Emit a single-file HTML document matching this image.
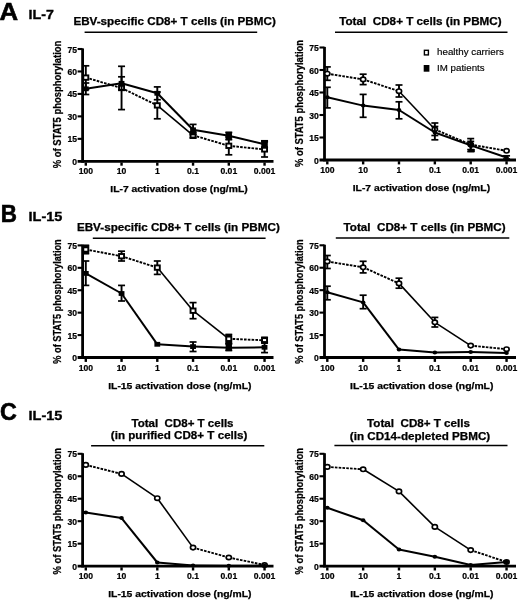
<!DOCTYPE html>
<html><head><meta charset="utf-8"><title>STAT5 phosphorylation</title>
<style>
html,body{margin:0;padding:0;background:#fff;}
body{width:520px;height:602px;overflow:hidden;}
svg{display:block;font-family:"Liberation Sans", sans-serif;filter:grayscale(1);}
</style></head>
<body>
<svg width="520" height="602" viewBox="0 0 520 602">
<rect width="520" height="602" fill="#fff"/>
<text transform="translate(61.10,168.20) rotate(-90)" font-size="10.6" font-weight="bold" text-anchor="start" textLength="127.60" lengthAdjust="spacingAndGlyphs" stroke="#000" stroke-width="0.25">% of STAT5 phosphorylation</text>
<line x1="82.60" y1="48.40" x2="82.60" y2="162.70" stroke="#000" stroke-width="2.8" stroke-linecap="butt"/>
<line x1="77.60" y1="161.30" x2="273.50" y2="161.30" stroke="#000" stroke-width="2.8" stroke-linecap="butt"/>
<text transform="translate(77.00,164.80) scale(1.05,1)" font-size="8.2" font-weight="bold" text-anchor="end" stroke="#000" stroke-width="0.2">0</text>
<line x1="77.60" y1="138.84" x2="82.60" y2="138.84" stroke="#000" stroke-width="2.1" stroke-linecap="butt"/>
<text transform="translate(77.00,142.34) scale(1.05,1)" font-size="8.2" font-weight="bold" text-anchor="end" stroke="#000" stroke-width="0.2">15</text>
<line x1="77.60" y1="116.38" x2="82.60" y2="116.38" stroke="#000" stroke-width="2.1" stroke-linecap="butt"/>
<text transform="translate(77.00,119.88) scale(1.05,1)" font-size="8.2" font-weight="bold" text-anchor="end" stroke="#000" stroke-width="0.2">30</text>
<line x1="77.60" y1="93.92" x2="82.60" y2="93.92" stroke="#000" stroke-width="2.1" stroke-linecap="butt"/>
<text transform="translate(77.00,97.42) scale(1.05,1)" font-size="8.2" font-weight="bold" text-anchor="end" stroke="#000" stroke-width="0.2">45</text>
<line x1="77.60" y1="71.46" x2="82.60" y2="71.46" stroke="#000" stroke-width="2.1" stroke-linecap="butt"/>
<text transform="translate(77.00,74.96) scale(1.05,1)" font-size="8.2" font-weight="bold" text-anchor="end" stroke="#000" stroke-width="0.2">60</text>
<line x1="77.60" y1="49.00" x2="82.60" y2="49.00" stroke="#000" stroke-width="2.1" stroke-linecap="butt"/>
<text transform="translate(77.00,52.50) scale(1.05,1)" font-size="8.2" font-weight="bold" text-anchor="end" stroke="#000" stroke-width="0.2">75</text>
<rect x="84.60" y="162.50" width="2.40" height="3.20" fill="#000"/>
<text transform="translate(85.80,174.10) scale(1.05,1)" font-size="8.2" font-weight="bold" text-anchor="middle" stroke="#000" stroke-width="0.2">100</text>
<rect x="120.35" y="162.50" width="2.40" height="3.20" fill="#000"/>
<text transform="translate(121.55,174.10) scale(1.05,1)" font-size="8.2" font-weight="bold" text-anchor="middle" stroke="#000" stroke-width="0.2">10</text>
<rect x="156.10" y="162.50" width="2.40" height="3.20" fill="#000"/>
<text transform="translate(157.30,174.10) scale(1.05,1)" font-size="8.2" font-weight="bold" text-anchor="middle" stroke="#000" stroke-width="0.2">1</text>
<rect x="191.85" y="162.50" width="2.40" height="3.20" fill="#000"/>
<text transform="translate(193.05,174.10) scale(1.05,1)" font-size="8.2" font-weight="bold" text-anchor="middle" stroke="#000" stroke-width="0.2">0.1</text>
<rect x="227.60" y="162.50" width="2.40" height="3.20" fill="#000"/>
<text transform="translate(228.80,174.10) scale(1.05,1)" font-size="8.2" font-weight="bold" text-anchor="middle" stroke="#000" stroke-width="0.2">0.01</text>
<rect x="263.35" y="162.50" width="2.40" height="3.20" fill="#000"/>
<text transform="translate(264.55,174.10) scale(1.05,1)" font-size="8.2" font-weight="bold" text-anchor="middle" stroke="#000" stroke-width="0.2">0.001</text>
<text x="110.30" y="191.50" font-size="9.2" font-weight="bold" text-anchor="start" textLength="137.40" lengthAdjust="spacingAndGlyphs" stroke="#000" stroke-width="0.25">IL-7 activation dose (ng/mL)</text>
<text x="73.40" y="24.90" font-size="10.0" font-weight="bold" text-anchor="start" textLength="202.40" lengthAdjust="spacingAndGlyphs" stroke="#000" stroke-width="0.25">EBV-specific CD8+ T cells (in PBMC)</text>
<line x1="84.60" y1="32.20" x2="257.20" y2="32.20" stroke="#000" stroke-width="1.5" stroke-linecap="butt"/>
<line x1="85.80" y1="65.80" x2="85.80" y2="89.40" stroke="#000" stroke-width="1.9" stroke-linecap="butt"/>
<line x1="82.30" y1="65.80" x2="89.30" y2="65.80" stroke="#000" stroke-width="1.7" stroke-linecap="butt"/>
<line x1="82.30" y1="89.40" x2="89.30" y2="89.40" stroke="#000" stroke-width="1.7" stroke-linecap="butt"/>
<line x1="121.55" y1="66.30" x2="121.55" y2="109.60" stroke="#000" stroke-width="1.9" stroke-linecap="butt"/>
<line x1="118.05" y1="66.30" x2="125.05" y2="66.30" stroke="#000" stroke-width="1.7" stroke-linecap="butt"/>
<line x1="118.05" y1="109.60" x2="125.05" y2="109.60" stroke="#000" stroke-width="1.7" stroke-linecap="butt"/>
<line x1="157.30" y1="92.00" x2="157.30" y2="118.80" stroke="#000" stroke-width="1.9" stroke-linecap="butt"/>
<line x1="153.80" y1="92.00" x2="160.80" y2="92.00" stroke="#000" stroke-width="1.7" stroke-linecap="butt"/>
<line x1="153.80" y1="118.80" x2="160.80" y2="118.80" stroke="#000" stroke-width="1.7" stroke-linecap="butt"/>
<line x1="193.05" y1="132.00" x2="193.05" y2="138.00" stroke="#000" stroke-width="1.9" stroke-linecap="butt"/>
<line x1="189.55" y1="132.00" x2="196.55" y2="132.00" stroke="#000" stroke-width="1.7" stroke-linecap="butt"/>
<line x1="189.55" y1="138.00" x2="196.55" y2="138.00" stroke="#000" stroke-width="1.7" stroke-linecap="butt"/>
<rect x="189.95" y="131.20" width="6.20" height="7.60" fill="#000"/>
<line x1="228.80" y1="137.00" x2="228.80" y2="154.80" stroke="#000" stroke-width="1.9" stroke-linecap="butt"/>
<line x1="225.30" y1="137.00" x2="232.30" y2="137.00" stroke="#000" stroke-width="1.7" stroke-linecap="butt"/>
<line x1="225.30" y1="154.80" x2="232.30" y2="154.80" stroke="#000" stroke-width="1.7" stroke-linecap="butt"/>
<line x1="264.55" y1="141.80" x2="264.55" y2="157.00" stroke="#000" stroke-width="1.9" stroke-linecap="butt"/>
<line x1="261.05" y1="141.80" x2="268.05" y2="141.80" stroke="#000" stroke-width="1.7" stroke-linecap="butt"/>
<line x1="261.05" y1="157.00" x2="268.05" y2="157.00" stroke="#000" stroke-width="1.7" stroke-linecap="butt"/>
<line x1="85.80" y1="77.60" x2="121.55" y2="88.00" stroke="#000" stroke-width="1.9" stroke-linecap="butt" stroke-dasharray="2.6 1.2"/>
<line x1="121.55" y1="88.00" x2="157.30" y2="105.40" stroke="#000" stroke-width="1.9" stroke-linecap="butt" stroke-dasharray="2.6 1.2"/>
<line x1="157.30" y1="105.40" x2="193.05" y2="135.30" stroke="#000" stroke-width="1.6" stroke-linecap="butt"/>
<line x1="193.05" y1="135.30" x2="228.80" y2="145.80" stroke="#000" stroke-width="1.9" stroke-linecap="butt" stroke-dasharray="2.6 1.2"/>
<line x1="228.80" y1="145.80" x2="264.55" y2="149.40" stroke="#000" stroke-width="1.9" stroke-linecap="butt" stroke-dasharray="2.6 1.2"/>
<rect x="83.30" y="75.40" width="5.0" height="4.4" fill="#fff" stroke="#000" stroke-width="1.9"/>
<rect x="119.05" y="85.80" width="5.0" height="4.4" fill="#fff" stroke="#000" stroke-width="1.9"/>
<rect x="154.80" y="103.20" width="5.0" height="4.4" fill="#fff" stroke="#000" stroke-width="1.9"/>
<rect x="190.55" y="133.10" width="5.0" height="4.4" fill="#fff" stroke="#000" stroke-width="1.9"/>
<rect x="226.30" y="143.60" width="5.0" height="4.4" fill="#fff" stroke="#000" stroke-width="1.9"/>
<rect x="262.05" y="147.20" width="5.0" height="4.4" fill="#fff" stroke="#000" stroke-width="1.9"/>
<line x1="85.80" y1="83.00" x2="85.80" y2="94.50" stroke="#000" stroke-width="1.9" stroke-linecap="butt"/>
<line x1="82.30" y1="83.00" x2="89.30" y2="83.00" stroke="#000" stroke-width="1.7" stroke-linecap="butt"/>
<line x1="82.30" y1="94.50" x2="89.30" y2="94.50" stroke="#000" stroke-width="1.7" stroke-linecap="butt"/>
<line x1="121.55" y1="76.80" x2="121.55" y2="89.80" stroke="#000" stroke-width="1.9" stroke-linecap="butt"/>
<line x1="118.05" y1="76.80" x2="125.05" y2="76.80" stroke="#000" stroke-width="1.7" stroke-linecap="butt"/>
<line x1="118.05" y1="89.80" x2="125.05" y2="89.80" stroke="#000" stroke-width="1.7" stroke-linecap="butt"/>
<line x1="157.30" y1="86.90" x2="157.30" y2="99.70" stroke="#000" stroke-width="1.9" stroke-linecap="butt"/>
<line x1="153.80" y1="86.90" x2="160.80" y2="86.90" stroke="#000" stroke-width="1.7" stroke-linecap="butt"/>
<line x1="153.80" y1="99.70" x2="160.80" y2="99.70" stroke="#000" stroke-width="1.7" stroke-linecap="butt"/>
<line x1="193.05" y1="124.40" x2="193.05" y2="134.50" stroke="#000" stroke-width="1.9" stroke-linecap="butt"/>
<line x1="189.55" y1="124.40" x2="196.55" y2="124.40" stroke="#000" stroke-width="1.7" stroke-linecap="butt"/>
<line x1="189.55" y1="134.50" x2="196.55" y2="134.50" stroke="#000" stroke-width="1.7" stroke-linecap="butt"/>
<line x1="228.80" y1="132.50" x2="228.80" y2="139.50" stroke="#000" stroke-width="1.9" stroke-linecap="butt"/>
<line x1="225.30" y1="132.50" x2="232.30" y2="132.50" stroke="#000" stroke-width="1.7" stroke-linecap="butt"/>
<line x1="225.30" y1="139.50" x2="232.30" y2="139.50" stroke="#000" stroke-width="1.7" stroke-linecap="butt"/>
<rect x="225.70" y="131.70" width="6.20" height="8.60" fill="#000"/>
<line x1="264.55" y1="140.80" x2="264.55" y2="147.60" stroke="#000" stroke-width="1.9" stroke-linecap="butt"/>
<line x1="261.05" y1="140.80" x2="268.05" y2="140.80" stroke="#000" stroke-width="1.7" stroke-linecap="butt"/>
<line x1="261.05" y1="147.60" x2="268.05" y2="147.60" stroke="#000" stroke-width="1.7" stroke-linecap="butt"/>
<rect x="261.45" y="140.00" width="6.20" height="8.40" fill="#000"/>
<line x1="85.80" y1="88.80" x2="121.55" y2="83.30" stroke="#000" stroke-width="2.0" stroke-linecap="butt"/>
<line x1="121.55" y1="83.30" x2="157.30" y2="93.30" stroke="#000" stroke-width="2.0" stroke-linecap="butt"/>
<line x1="157.30" y1="93.30" x2="193.05" y2="129.80" stroke="#000" stroke-width="2.0" stroke-linecap="butt"/>
<line x1="193.05" y1="129.80" x2="228.80" y2="135.80" stroke="#000" stroke-width="2.0" stroke-linecap="butt"/>
<line x1="228.80" y1="135.80" x2="264.55" y2="144.20" stroke="#000" stroke-width="2.0" stroke-linecap="butt"/>
<rect x="82.90" y="86.40" width="5.80" height="4.80" fill="#000"/>
<rect x="118.65" y="80.90" width="5.80" height="4.80" fill="#000"/>
<rect x="154.40" y="90.90" width="5.80" height="4.80" fill="#000"/>
<rect x="190.15" y="127.40" width="5.80" height="4.80" fill="#000"/>
<rect x="225.90" y="133.40" width="5.80" height="4.80" fill="#000"/>
<rect x="261.65" y="141.80" width="5.80" height="4.80" fill="#000"/>
<text transform="translate(303.10,167.00) rotate(-90)" font-size="10.6" font-weight="bold" text-anchor="start" textLength="127.00" lengthAdjust="spacingAndGlyphs" stroke="#000" stroke-width="0.25">% of STAT5 phosphorylation</text>
<line x1="324.50" y1="46.90" x2="324.50" y2="161.40" stroke="#000" stroke-width="2.8" stroke-linecap="butt"/>
<line x1="319.50" y1="160.00" x2="516.00" y2="160.00" stroke="#000" stroke-width="2.8" stroke-linecap="butt"/>
<text transform="translate(318.90,163.50) scale(1.05,1)" font-size="8.2" font-weight="bold" text-anchor="end" stroke="#000" stroke-width="0.2">0</text>
<line x1="319.50" y1="137.50" x2="324.50" y2="137.50" stroke="#000" stroke-width="2.1" stroke-linecap="butt"/>
<text transform="translate(318.90,141.00) scale(1.05,1)" font-size="8.2" font-weight="bold" text-anchor="end" stroke="#000" stroke-width="0.2">15</text>
<line x1="319.50" y1="115.00" x2="324.50" y2="115.00" stroke="#000" stroke-width="2.1" stroke-linecap="butt"/>
<text transform="translate(318.90,118.50) scale(1.05,1)" font-size="8.2" font-weight="bold" text-anchor="end" stroke="#000" stroke-width="0.2">30</text>
<line x1="319.50" y1="92.50" x2="324.50" y2="92.50" stroke="#000" stroke-width="2.1" stroke-linecap="butt"/>
<text transform="translate(318.90,96.00) scale(1.05,1)" font-size="8.2" font-weight="bold" text-anchor="end" stroke="#000" stroke-width="0.2">45</text>
<line x1="319.50" y1="70.00" x2="324.50" y2="70.00" stroke="#000" stroke-width="2.1" stroke-linecap="butt"/>
<text transform="translate(318.90,73.50) scale(1.05,1)" font-size="8.2" font-weight="bold" text-anchor="end" stroke="#000" stroke-width="0.2">60</text>
<line x1="319.50" y1="47.50" x2="324.50" y2="47.50" stroke="#000" stroke-width="2.1" stroke-linecap="butt"/>
<text transform="translate(318.90,51.00) scale(1.05,1)" font-size="8.2" font-weight="bold" text-anchor="end" stroke="#000" stroke-width="0.2">75</text>
<rect x="326.10" y="161.20" width="2.40" height="3.20" fill="#000"/>
<text transform="translate(327.30,172.80) scale(1.05,1)" font-size="8.2" font-weight="bold" text-anchor="middle" stroke="#000" stroke-width="0.2">100</text>
<rect x="361.95" y="161.20" width="2.40" height="3.20" fill="#000"/>
<text transform="translate(363.15,172.80) scale(1.05,1)" font-size="8.2" font-weight="bold" text-anchor="middle" stroke="#000" stroke-width="0.2">10</text>
<rect x="397.80" y="161.20" width="2.40" height="3.20" fill="#000"/>
<text transform="translate(399.00,172.80) scale(1.05,1)" font-size="8.2" font-weight="bold" text-anchor="middle" stroke="#000" stroke-width="0.2">1</text>
<rect x="433.65" y="161.20" width="2.40" height="3.20" fill="#000"/>
<text transform="translate(434.85,172.80) scale(1.05,1)" font-size="8.2" font-weight="bold" text-anchor="middle" stroke="#000" stroke-width="0.2">0.1</text>
<rect x="469.50" y="161.20" width="2.40" height="3.20" fill="#000"/>
<text transform="translate(470.70,172.80) scale(1.05,1)" font-size="8.2" font-weight="bold" text-anchor="middle" stroke="#000" stroke-width="0.2">0.01</text>
<rect x="505.35" y="161.20" width="2.40" height="3.20" fill="#000"/>
<text transform="translate(506.55,172.80) scale(1.05,1)" font-size="8.2" font-weight="bold" text-anchor="middle" stroke="#000" stroke-width="0.2">0.001</text>
<text x="352.70" y="191.00" font-size="9.2" font-weight="bold" text-anchor="start" textLength="137.40" lengthAdjust="spacingAndGlyphs" stroke="#000" stroke-width="0.25">IL-7 activation dose (ng/mL)</text>
<text x="339.20" y="25.40" font-size="10.0" font-weight="bold" text-anchor="start" textLength="162.50" lengthAdjust="spacingAndGlyphs" stroke="#000" stroke-width="0.25">Total  CD8+ T cells (in PBMC)</text>
<line x1="335.00" y1="32.30" x2="507.50" y2="32.30" stroke="#000" stroke-width="1.5" stroke-linecap="butt"/>
<line x1="327.30" y1="66.90" x2="327.30" y2="80.30" stroke="#000" stroke-width="1.9" stroke-linecap="butt"/>
<line x1="323.80" y1="66.90" x2="330.80" y2="66.90" stroke="#000" stroke-width="1.7" stroke-linecap="butt"/>
<line x1="323.80" y1="80.30" x2="330.80" y2="80.30" stroke="#000" stroke-width="1.7" stroke-linecap="butt"/>
<line x1="363.15" y1="74.20" x2="363.15" y2="84.60" stroke="#000" stroke-width="1.9" stroke-linecap="butt"/>
<line x1="359.65" y1="74.20" x2="366.65" y2="74.20" stroke="#000" stroke-width="1.7" stroke-linecap="butt"/>
<line x1="359.65" y1="84.60" x2="366.65" y2="84.60" stroke="#000" stroke-width="1.7" stroke-linecap="butt"/>
<line x1="399.00" y1="85.00" x2="399.00" y2="97.00" stroke="#000" stroke-width="1.9" stroke-linecap="butt"/>
<line x1="395.50" y1="85.00" x2="402.50" y2="85.00" stroke="#000" stroke-width="1.7" stroke-linecap="butt"/>
<line x1="395.50" y1="97.00" x2="402.50" y2="97.00" stroke="#000" stroke-width="1.7" stroke-linecap="butt"/>
<line x1="434.85" y1="123.00" x2="434.85" y2="135.50" stroke="#000" stroke-width="1.9" stroke-linecap="butt"/>
<line x1="431.35" y1="123.00" x2="438.35" y2="123.00" stroke="#000" stroke-width="1.7" stroke-linecap="butt"/>
<line x1="431.35" y1="135.50" x2="438.35" y2="135.50" stroke="#000" stroke-width="1.7" stroke-linecap="butt"/>
<line x1="470.70" y1="138.60" x2="470.70" y2="151.50" stroke="#000" stroke-width="1.9" stroke-linecap="butt"/>
<line x1="467.20" y1="138.60" x2="474.20" y2="138.60" stroke="#000" stroke-width="1.7" stroke-linecap="butt"/>
<line x1="467.20" y1="151.50" x2="474.20" y2="151.50" stroke="#000" stroke-width="1.7" stroke-linecap="butt"/>
<line x1="327.30" y1="73.70" x2="363.15" y2="79.40" stroke="#000" stroke-width="1.9" stroke-linecap="butt" stroke-dasharray="2.6 1.2"/>
<line x1="363.15" y1="79.40" x2="399.00" y2="91.20" stroke="#000" stroke-width="1.9" stroke-linecap="butt" stroke-dasharray="2.6 1.2"/>
<line x1="399.00" y1="91.20" x2="434.85" y2="129.30" stroke="#000" stroke-width="1.6" stroke-linecap="butt"/>
<line x1="434.85" y1="129.30" x2="470.70" y2="144.60" stroke="#000" stroke-width="1.9" stroke-linecap="butt" stroke-dasharray="2.6 1.2"/>
<line x1="470.70" y1="144.60" x2="506.55" y2="150.80" stroke="#000" stroke-width="1.9" stroke-linecap="butt" stroke-dasharray="2.6 1.2"/>
<ellipse cx="327.30" cy="73.70" rx="2.6" ry="2.2" fill="#fff" stroke="#000" stroke-width="1.7"/>
<ellipse cx="363.15" cy="79.40" rx="2.6" ry="2.2" fill="#fff" stroke="#000" stroke-width="1.7"/>
<ellipse cx="399.00" cy="91.20" rx="2.6" ry="2.2" fill="#fff" stroke="#000" stroke-width="1.7"/>
<ellipse cx="434.85" cy="129.30" rx="2.6" ry="2.2" fill="#fff" stroke="#000" stroke-width="1.7"/>
<ellipse cx="470.70" cy="144.60" rx="2.6" ry="2.2" fill="#fff" stroke="#000" stroke-width="1.7"/>
<ellipse cx="506.55" cy="150.80" rx="2.6" ry="2.2" fill="#fff" stroke="#000" stroke-width="1.7"/>
<line x1="327.30" y1="87.30" x2="327.30" y2="107.90" stroke="#000" stroke-width="1.9" stroke-linecap="butt"/>
<line x1="323.80" y1="87.30" x2="330.80" y2="87.30" stroke="#000" stroke-width="1.7" stroke-linecap="butt"/>
<line x1="323.80" y1="107.90" x2="330.80" y2="107.90" stroke="#000" stroke-width="1.7" stroke-linecap="butt"/>
<line x1="363.15" y1="94.40" x2="363.15" y2="117.30" stroke="#000" stroke-width="1.9" stroke-linecap="butt"/>
<line x1="359.65" y1="94.40" x2="366.65" y2="94.40" stroke="#000" stroke-width="1.7" stroke-linecap="butt"/>
<line x1="359.65" y1="117.30" x2="366.65" y2="117.30" stroke="#000" stroke-width="1.7" stroke-linecap="butt"/>
<line x1="399.00" y1="101.80" x2="399.00" y2="118.80" stroke="#000" stroke-width="1.9" stroke-linecap="butt"/>
<line x1="395.50" y1="101.80" x2="402.50" y2="101.80" stroke="#000" stroke-width="1.7" stroke-linecap="butt"/>
<line x1="395.50" y1="118.80" x2="402.50" y2="118.80" stroke="#000" stroke-width="1.7" stroke-linecap="butt"/>
<line x1="434.85" y1="126.50" x2="434.85" y2="139.80" stroke="#000" stroke-width="1.9" stroke-linecap="butt"/>
<line x1="431.35" y1="126.50" x2="438.35" y2="126.50" stroke="#000" stroke-width="1.7" stroke-linecap="butt"/>
<line x1="431.35" y1="139.80" x2="438.35" y2="139.80" stroke="#000" stroke-width="1.7" stroke-linecap="butt"/>
<line x1="470.70" y1="141.40" x2="470.70" y2="149.60" stroke="#000" stroke-width="1.9" stroke-linecap="butt"/>
<line x1="467.20" y1="141.40" x2="474.20" y2="141.40" stroke="#000" stroke-width="1.7" stroke-linecap="butt"/>
<line x1="467.20" y1="149.60" x2="474.20" y2="149.60" stroke="#000" stroke-width="1.7" stroke-linecap="butt"/>
<line x1="506.55" y1="155.80" x2="506.55" y2="159.00" stroke="#000" stroke-width="1.9" stroke-linecap="butt"/>
<line x1="503.05" y1="155.80" x2="510.05" y2="155.80" stroke="#000" stroke-width="1.7" stroke-linecap="butt"/>
<line x1="503.05" y1="159.00" x2="510.05" y2="159.00" stroke="#000" stroke-width="1.7" stroke-linecap="butt"/>
<line x1="327.30" y1="97.30" x2="363.15" y2="105.60" stroke="#000" stroke-width="2.0" stroke-linecap="butt"/>
<line x1="363.15" y1="105.60" x2="399.00" y2="110.00" stroke="#000" stroke-width="2.0" stroke-linecap="butt"/>
<line x1="399.00" y1="110.00" x2="434.85" y2="132.50" stroke="#000" stroke-width="2.0" stroke-linecap="butt"/>
<line x1="434.85" y1="132.50" x2="470.70" y2="145.40" stroke="#000" stroke-width="2.0" stroke-linecap="butt"/>
<line x1="470.70" y1="145.40" x2="506.55" y2="157.50" stroke="#000" stroke-width="2.0" stroke-linecap="butt"/>
<ellipse cx="327.30" cy="97.30" rx="2.3" ry="2.0" fill="#000"/>
<ellipse cx="363.15" cy="105.60" rx="2.3" ry="2.0" fill="#000"/>
<ellipse cx="399.00" cy="110.00" rx="2.3" ry="2.0" fill="#000"/>
<ellipse cx="434.85" cy="132.50" rx="2.3" ry="2.0" fill="#000"/>
<ellipse cx="470.70" cy="145.40" rx="2.3" ry="2.0" fill="#000"/>
<ellipse cx="506.55" cy="157.50" rx="2.3" ry="2.0" fill="#000"/>
<ellipse cx="471.55" cy="145.2" rx="2.7" ry="2.5" fill="#000"/>
<rect x="468.2" y="149.0" width="6.6" height="3.2" fill="#000"/>
<text transform="translate(60.90,363.70) rotate(-90)" font-size="10.6" font-weight="bold" text-anchor="start" textLength="124.40" lengthAdjust="spacingAndGlyphs" stroke="#000" stroke-width="0.25">% of STAT5 phosphorylation</text>
<line x1="82.60" y1="244.80" x2="82.60" y2="358.90" stroke="#000" stroke-width="2.8" stroke-linecap="butt"/>
<line x1="77.60" y1="357.50" x2="273.50" y2="357.50" stroke="#000" stroke-width="2.8" stroke-linecap="butt"/>
<text transform="translate(77.00,361.00) scale(1.05,1)" font-size="8.2" font-weight="bold" text-anchor="end" stroke="#000" stroke-width="0.2">0</text>
<line x1="77.60" y1="335.08" x2="82.60" y2="335.08" stroke="#000" stroke-width="2.1" stroke-linecap="butt"/>
<text transform="translate(77.00,338.58) scale(1.05,1)" font-size="8.2" font-weight="bold" text-anchor="end" stroke="#000" stroke-width="0.2">15</text>
<line x1="77.60" y1="312.66" x2="82.60" y2="312.66" stroke="#000" stroke-width="2.1" stroke-linecap="butt"/>
<text transform="translate(77.00,316.16) scale(1.05,1)" font-size="8.2" font-weight="bold" text-anchor="end" stroke="#000" stroke-width="0.2">30</text>
<line x1="77.60" y1="290.24" x2="82.60" y2="290.24" stroke="#000" stroke-width="2.1" stroke-linecap="butt"/>
<text transform="translate(77.00,293.74) scale(1.05,1)" font-size="8.2" font-weight="bold" text-anchor="end" stroke="#000" stroke-width="0.2">45</text>
<line x1="77.60" y1="267.82" x2="82.60" y2="267.82" stroke="#000" stroke-width="2.1" stroke-linecap="butt"/>
<text transform="translate(77.00,271.32) scale(1.05,1)" font-size="8.2" font-weight="bold" text-anchor="end" stroke="#000" stroke-width="0.2">60</text>
<line x1="77.60" y1="245.40" x2="82.60" y2="245.40" stroke="#000" stroke-width="2.1" stroke-linecap="butt"/>
<text transform="translate(77.00,248.90) scale(1.05,1)" font-size="8.2" font-weight="bold" text-anchor="end" stroke="#000" stroke-width="0.2">75</text>
<rect x="84.60" y="358.70" width="2.40" height="3.20" fill="#000"/>
<text transform="translate(85.80,371.00) scale(1.05,1)" font-size="8.2" font-weight="bold" text-anchor="middle" stroke="#000" stroke-width="0.2">100</text>
<rect x="120.35" y="358.70" width="2.40" height="3.20" fill="#000"/>
<text transform="translate(121.55,371.00) scale(1.05,1)" font-size="8.2" font-weight="bold" text-anchor="middle" stroke="#000" stroke-width="0.2">10</text>
<rect x="156.10" y="358.70" width="2.40" height="3.20" fill="#000"/>
<text transform="translate(157.30,371.00) scale(1.05,1)" font-size="8.2" font-weight="bold" text-anchor="middle" stroke="#000" stroke-width="0.2">1</text>
<rect x="191.85" y="358.70" width="2.40" height="3.20" fill="#000"/>
<text transform="translate(193.05,371.00) scale(1.05,1)" font-size="8.2" font-weight="bold" text-anchor="middle" stroke="#000" stroke-width="0.2">0.1</text>
<rect x="227.60" y="358.70" width="2.40" height="3.20" fill="#000"/>
<text transform="translate(228.80,371.00) scale(1.05,1)" font-size="8.2" font-weight="bold" text-anchor="middle" stroke="#000" stroke-width="0.2">0.01</text>
<rect x="263.35" y="358.70" width="2.40" height="3.20" fill="#000"/>
<text transform="translate(264.55,371.00) scale(1.05,1)" font-size="8.2" font-weight="bold" text-anchor="middle" stroke="#000" stroke-width="0.2">0.001</text>
<text x="108.20" y="388.50" font-size="9.2" font-weight="bold" text-anchor="start" textLength="143.30" lengthAdjust="spacingAndGlyphs" stroke="#000" stroke-width="0.25">IL-15 activation dose (ng/mL)</text>
<text x="76.90" y="230.80" font-size="10.0" font-weight="bold" text-anchor="start" textLength="202.90" lengthAdjust="spacingAndGlyphs" stroke="#000" stroke-width="0.25">EBV-specific CD8+ T cells (in PBMC)</text>
<line x1="92.80" y1="238.30" x2="265.60" y2="238.30" stroke="#000" stroke-width="1.5" stroke-linecap="butt"/>
<line x1="85.80" y1="245.50" x2="85.80" y2="253.50" stroke="#000" stroke-width="1.9" stroke-linecap="butt"/>
<line x1="82.30" y1="245.50" x2="89.30" y2="245.50" stroke="#000" stroke-width="1.7" stroke-linecap="butt"/>
<line x1="82.30" y1="253.50" x2="89.30" y2="253.50" stroke="#000" stroke-width="1.7" stroke-linecap="butt"/>
<rect x="82.70" y="244.70" width="6.20" height="9.60" fill="#000"/>
<line x1="121.55" y1="251.20" x2="121.55" y2="261.00" stroke="#000" stroke-width="1.9" stroke-linecap="butt"/>
<line x1="118.05" y1="251.20" x2="125.05" y2="251.20" stroke="#000" stroke-width="1.7" stroke-linecap="butt"/>
<line x1="118.05" y1="261.00" x2="125.05" y2="261.00" stroke="#000" stroke-width="1.7" stroke-linecap="butt"/>
<line x1="157.30" y1="261.00" x2="157.30" y2="274.40" stroke="#000" stroke-width="1.9" stroke-linecap="butt"/>
<line x1="153.80" y1="261.00" x2="160.80" y2="261.00" stroke="#000" stroke-width="1.7" stroke-linecap="butt"/>
<line x1="153.80" y1="274.40" x2="160.80" y2="274.40" stroke="#000" stroke-width="1.7" stroke-linecap="butt"/>
<line x1="193.05" y1="302.60" x2="193.05" y2="318.70" stroke="#000" stroke-width="1.9" stroke-linecap="butt"/>
<line x1="189.55" y1="302.60" x2="196.55" y2="302.60" stroke="#000" stroke-width="1.7" stroke-linecap="butt"/>
<line x1="189.55" y1="318.70" x2="196.55" y2="318.70" stroke="#000" stroke-width="1.7" stroke-linecap="butt"/>
<line x1="228.80" y1="334.60" x2="228.80" y2="343.00" stroke="#000" stroke-width="1.9" stroke-linecap="butt"/>
<line x1="225.30" y1="334.60" x2="232.30" y2="334.60" stroke="#000" stroke-width="1.7" stroke-linecap="butt"/>
<line x1="225.30" y1="343.00" x2="232.30" y2="343.00" stroke="#000" stroke-width="1.7" stroke-linecap="butt"/>
<rect x="225.70" y="333.80" width="6.20" height="10.00" fill="#000"/>
<line x1="264.55" y1="337.50" x2="264.55" y2="343.00" stroke="#000" stroke-width="1.9" stroke-linecap="butt"/>
<line x1="261.05" y1="337.50" x2="268.05" y2="337.50" stroke="#000" stroke-width="1.7" stroke-linecap="butt"/>
<line x1="261.05" y1="343.00" x2="268.05" y2="343.00" stroke="#000" stroke-width="1.7" stroke-linecap="butt"/>
<rect x="261.45" y="336.70" width="6.20" height="7.10" fill="#000"/>
<line x1="85.80" y1="249.50" x2="121.55" y2="256.20" stroke="#000" stroke-width="1.9" stroke-linecap="butt" stroke-dasharray="2.6 1.2"/>
<line x1="121.55" y1="256.20" x2="157.30" y2="267.60" stroke="#000" stroke-width="1.9" stroke-linecap="butt" stroke-dasharray="2.6 1.2"/>
<line x1="157.30" y1="267.60" x2="193.05" y2="310.70" stroke="#000" stroke-width="1.6" stroke-linecap="butt"/>
<line x1="193.05" y1="310.70" x2="228.80" y2="338.80" stroke="#000" stroke-width="1.6" stroke-linecap="butt"/>
<line x1="228.80" y1="338.80" x2="264.55" y2="340.30" stroke="#000" stroke-width="1.9" stroke-linecap="butt" stroke-dasharray="2.6 1.2"/>
<rect x="83.30" y="247.30" width="5.0" height="4.4" fill="#fff" stroke="#000" stroke-width="1.9"/>
<rect x="119.05" y="254.00" width="5.0" height="4.4" fill="#fff" stroke="#000" stroke-width="1.9"/>
<rect x="154.80" y="265.40" width="5.0" height="4.4" fill="#fff" stroke="#000" stroke-width="1.9"/>
<rect x="190.55" y="308.50" width="5.0" height="4.4" fill="#fff" stroke="#000" stroke-width="1.9"/>
<rect x="226.30" y="336.60" width="5.0" height="4.4" fill="#fff" stroke="#000" stroke-width="1.9"/>
<rect x="262.05" y="338.10" width="5.0" height="4.4" fill="#fff" stroke="#000" stroke-width="1.9"/>
<line x1="85.80" y1="261.00" x2="85.80" y2="285.40" stroke="#000" stroke-width="1.9" stroke-linecap="butt"/>
<line x1="82.30" y1="261.00" x2="89.30" y2="261.00" stroke="#000" stroke-width="1.7" stroke-linecap="butt"/>
<line x1="82.30" y1="285.40" x2="89.30" y2="285.40" stroke="#000" stroke-width="1.7" stroke-linecap="butt"/>
<line x1="121.55" y1="285.40" x2="121.55" y2="301.00" stroke="#000" stroke-width="1.9" stroke-linecap="butt"/>
<line x1="118.05" y1="285.40" x2="125.05" y2="285.40" stroke="#000" stroke-width="1.7" stroke-linecap="butt"/>
<line x1="118.05" y1="301.00" x2="125.05" y2="301.00" stroke="#000" stroke-width="1.7" stroke-linecap="butt"/>
<line x1="193.05" y1="342.00" x2="193.05" y2="351.50" stroke="#000" stroke-width="1.9" stroke-linecap="butt"/>
<line x1="189.55" y1="342.00" x2="196.55" y2="342.00" stroke="#000" stroke-width="1.7" stroke-linecap="butt"/>
<line x1="189.55" y1="351.50" x2="196.55" y2="351.50" stroke="#000" stroke-width="1.7" stroke-linecap="butt"/>
<line x1="228.80" y1="344.00" x2="228.80" y2="350.40" stroke="#000" stroke-width="1.9" stroke-linecap="butt"/>
<line x1="225.30" y1="344.00" x2="232.30" y2="344.00" stroke="#000" stroke-width="1.7" stroke-linecap="butt"/>
<line x1="225.30" y1="350.40" x2="232.30" y2="350.40" stroke="#000" stroke-width="1.7" stroke-linecap="butt"/>
<rect x="225.70" y="343.20" width="6.20" height="8.00" fill="#000"/>
<line x1="264.55" y1="342.00" x2="264.55" y2="352.60" stroke="#000" stroke-width="1.9" stroke-linecap="butt"/>
<line x1="261.05" y1="342.00" x2="268.05" y2="342.00" stroke="#000" stroke-width="1.7" stroke-linecap="butt"/>
<line x1="261.05" y1="352.60" x2="268.05" y2="352.60" stroke="#000" stroke-width="1.7" stroke-linecap="butt"/>
<line x1="85.80" y1="273.40" x2="121.55" y2="293.50" stroke="#000" stroke-width="2.0" stroke-linecap="butt"/>
<line x1="121.55" y1="293.50" x2="157.30" y2="344.30" stroke="#000" stroke-width="2.0" stroke-linecap="butt"/>
<line x1="157.30" y1="344.30" x2="193.05" y2="346.60" stroke="#000" stroke-width="2.0" stroke-linecap="butt"/>
<line x1="193.05" y1="346.60" x2="228.80" y2="347.70" stroke="#000" stroke-width="2.0" stroke-linecap="butt"/>
<line x1="228.80" y1="347.70" x2="264.55" y2="347.30" stroke="#000" stroke-width="2.0" stroke-linecap="butt"/>
<rect x="82.90" y="271.00" width="5.80" height="4.80" fill="#000"/>
<rect x="118.65" y="291.10" width="5.80" height="4.80" fill="#000"/>
<rect x="154.40" y="341.90" width="5.80" height="4.80" fill="#000"/>
<rect x="190.15" y="344.20" width="5.80" height="4.80" fill="#000"/>
<rect x="225.90" y="345.30" width="5.80" height="4.80" fill="#000"/>
<rect x="261.65" y="344.90" width="5.80" height="4.80" fill="#000"/>
<text transform="translate(302.90,363.70) rotate(-90)" font-size="10.6" font-weight="bold" text-anchor="start" textLength="124.40" lengthAdjust="spacingAndGlyphs" stroke="#000" stroke-width="0.25">% of STAT5 phosphorylation</text>
<line x1="324.50" y1="244.70" x2="324.50" y2="358.90" stroke="#000" stroke-width="2.8" stroke-linecap="butt"/>
<line x1="319.50" y1="357.50" x2="516.00" y2="357.50" stroke="#000" stroke-width="2.8" stroke-linecap="butt"/>
<text transform="translate(318.90,361.00) scale(1.05,1)" font-size="8.2" font-weight="bold" text-anchor="end" stroke="#000" stroke-width="0.2">0</text>
<line x1="319.50" y1="335.06" x2="324.50" y2="335.06" stroke="#000" stroke-width="2.1" stroke-linecap="butt"/>
<text transform="translate(318.90,338.56) scale(1.05,1)" font-size="8.2" font-weight="bold" text-anchor="end" stroke="#000" stroke-width="0.2">15</text>
<line x1="319.50" y1="312.62" x2="324.50" y2="312.62" stroke="#000" stroke-width="2.1" stroke-linecap="butt"/>
<text transform="translate(318.90,316.12) scale(1.05,1)" font-size="8.2" font-weight="bold" text-anchor="end" stroke="#000" stroke-width="0.2">30</text>
<line x1="319.50" y1="290.18" x2="324.50" y2="290.18" stroke="#000" stroke-width="2.1" stroke-linecap="butt"/>
<text transform="translate(318.90,293.68) scale(1.05,1)" font-size="8.2" font-weight="bold" text-anchor="end" stroke="#000" stroke-width="0.2">45</text>
<line x1="319.50" y1="267.74" x2="324.50" y2="267.74" stroke="#000" stroke-width="2.1" stroke-linecap="butt"/>
<text transform="translate(318.90,271.24) scale(1.05,1)" font-size="8.2" font-weight="bold" text-anchor="end" stroke="#000" stroke-width="0.2">60</text>
<line x1="319.50" y1="245.30" x2="324.50" y2="245.30" stroke="#000" stroke-width="2.1" stroke-linecap="butt"/>
<text transform="translate(318.90,248.80) scale(1.05,1)" font-size="8.2" font-weight="bold" text-anchor="end" stroke="#000" stroke-width="0.2">75</text>
<rect x="326.10" y="358.70" width="2.40" height="3.20" fill="#000"/>
<text transform="translate(327.30,371.00) scale(1.05,1)" font-size="8.2" font-weight="bold" text-anchor="middle" stroke="#000" stroke-width="0.2">100</text>
<rect x="361.95" y="358.70" width="2.40" height="3.20" fill="#000"/>
<text transform="translate(363.15,371.00) scale(1.05,1)" font-size="8.2" font-weight="bold" text-anchor="middle" stroke="#000" stroke-width="0.2">10</text>
<rect x="397.80" y="358.70" width="2.40" height="3.20" fill="#000"/>
<text transform="translate(399.00,371.00) scale(1.05,1)" font-size="8.2" font-weight="bold" text-anchor="middle" stroke="#000" stroke-width="0.2">1</text>
<rect x="433.65" y="358.70" width="2.40" height="3.20" fill="#000"/>
<text transform="translate(434.85,371.00) scale(1.05,1)" font-size="8.2" font-weight="bold" text-anchor="middle" stroke="#000" stroke-width="0.2">0.1</text>
<rect x="469.50" y="358.70" width="2.40" height="3.20" fill="#000"/>
<text transform="translate(470.70,371.00) scale(1.05,1)" font-size="8.2" font-weight="bold" text-anchor="middle" stroke="#000" stroke-width="0.2">0.01</text>
<rect x="505.35" y="358.70" width="2.40" height="3.20" fill="#000"/>
<text transform="translate(506.55,371.00) scale(1.05,1)" font-size="8.2" font-weight="bold" text-anchor="middle" stroke="#000" stroke-width="0.2">0.001</text>
<text x="350.10" y="388.70" font-size="9.2" font-weight="bold" text-anchor="start" textLength="143.30" lengthAdjust="spacingAndGlyphs" stroke="#000" stroke-width="0.25">IL-15 activation dose (ng/mL)</text>
<text x="343.50" y="231.20" font-size="10.0" font-weight="bold" text-anchor="start" textLength="162.10" lengthAdjust="spacingAndGlyphs" stroke="#000" stroke-width="0.25">Total  CD8+ T cells (in PBMC)</text>
<line x1="335.80" y1="238.10" x2="509.30" y2="238.10" stroke="#000" stroke-width="1.5" stroke-linecap="butt"/>
<line x1="327.30" y1="255.50" x2="327.30" y2="268.50" stroke="#000" stroke-width="1.9" stroke-linecap="butt"/>
<line x1="323.80" y1="255.50" x2="330.80" y2="255.50" stroke="#000" stroke-width="1.7" stroke-linecap="butt"/>
<line x1="323.80" y1="268.50" x2="330.80" y2="268.50" stroke="#000" stroke-width="1.7" stroke-linecap="butt"/>
<line x1="363.15" y1="261.30" x2="363.15" y2="272.90" stroke="#000" stroke-width="1.9" stroke-linecap="butt"/>
<line x1="359.65" y1="261.30" x2="366.65" y2="261.30" stroke="#000" stroke-width="1.7" stroke-linecap="butt"/>
<line x1="359.65" y1="272.90" x2="366.65" y2="272.90" stroke="#000" stroke-width="1.7" stroke-linecap="butt"/>
<line x1="399.00" y1="278.20" x2="399.00" y2="288.20" stroke="#000" stroke-width="1.9" stroke-linecap="butt"/>
<line x1="395.50" y1="278.20" x2="402.50" y2="278.20" stroke="#000" stroke-width="1.7" stroke-linecap="butt"/>
<line x1="395.50" y1="288.20" x2="402.50" y2="288.20" stroke="#000" stroke-width="1.7" stroke-linecap="butt"/>
<line x1="434.85" y1="317.40" x2="434.85" y2="327.00" stroke="#000" stroke-width="1.9" stroke-linecap="butt"/>
<line x1="431.35" y1="317.40" x2="438.35" y2="317.40" stroke="#000" stroke-width="1.7" stroke-linecap="butt"/>
<line x1="431.35" y1="327.00" x2="438.35" y2="327.00" stroke="#000" stroke-width="1.7" stroke-linecap="butt"/>
<line x1="327.30" y1="261.50" x2="363.15" y2="267.30" stroke="#000" stroke-width="1.9" stroke-linecap="butt" stroke-dasharray="2.6 1.2"/>
<line x1="363.15" y1="267.30" x2="399.00" y2="283.40" stroke="#000" stroke-width="1.9" stroke-linecap="butt" stroke-dasharray="2.6 1.2"/>
<line x1="399.00" y1="283.40" x2="434.85" y2="322.30" stroke="#000" stroke-width="1.6" stroke-linecap="butt"/>
<line x1="434.85" y1="322.30" x2="470.70" y2="345.60" stroke="#000" stroke-width="1.6" stroke-linecap="butt"/>
<line x1="470.70" y1="345.60" x2="506.55" y2="349.20" stroke="#000" stroke-width="1.9" stroke-linecap="butt" stroke-dasharray="2.6 1.2"/>
<ellipse cx="327.30" cy="261.50" rx="2.6" ry="2.2" fill="#fff" stroke="#000" stroke-width="1.7"/>
<ellipse cx="363.15" cy="267.30" rx="2.6" ry="2.2" fill="#fff" stroke="#000" stroke-width="1.7"/>
<ellipse cx="399.00" cy="283.40" rx="2.6" ry="2.2" fill="#fff" stroke="#000" stroke-width="1.7"/>
<ellipse cx="434.85" cy="322.30" rx="2.6" ry="2.2" fill="#fff" stroke="#000" stroke-width="1.7"/>
<ellipse cx="470.70" cy="345.60" rx="2.6" ry="2.2" fill="#fff" stroke="#000" stroke-width="1.7"/>
<ellipse cx="506.55" cy="349.20" rx="2.6" ry="2.2" fill="#fff" stroke="#000" stroke-width="1.7"/>
<line x1="327.30" y1="286.20" x2="327.30" y2="299.80" stroke="#000" stroke-width="1.9" stroke-linecap="butt"/>
<line x1="323.80" y1="286.20" x2="330.80" y2="286.20" stroke="#000" stroke-width="1.7" stroke-linecap="butt"/>
<line x1="323.80" y1="299.80" x2="330.80" y2="299.80" stroke="#000" stroke-width="1.7" stroke-linecap="butt"/>
<line x1="363.15" y1="295.20" x2="363.15" y2="308.70" stroke="#000" stroke-width="1.9" stroke-linecap="butt"/>
<line x1="359.65" y1="295.20" x2="366.65" y2="295.20" stroke="#000" stroke-width="1.7" stroke-linecap="butt"/>
<line x1="359.65" y1="308.70" x2="366.65" y2="308.70" stroke="#000" stroke-width="1.7" stroke-linecap="butt"/>
<line x1="327.30" y1="292.20" x2="363.15" y2="302.40" stroke="#000" stroke-width="2.0" stroke-linecap="butt"/>
<line x1="363.15" y1="302.40" x2="399.00" y2="349.60" stroke="#000" stroke-width="2.0" stroke-linecap="butt"/>
<line x1="399.00" y1="349.60" x2="434.85" y2="352.60" stroke="#000" stroke-width="2.0" stroke-linecap="butt"/>
<line x1="434.85" y1="352.60" x2="470.70" y2="352.00" stroke="#000" stroke-width="2.0" stroke-linecap="butt"/>
<line x1="470.70" y1="352.00" x2="506.55" y2="353.00" stroke="#000" stroke-width="2.0" stroke-linecap="butt"/>
<ellipse cx="327.30" cy="292.20" rx="2.3" ry="2.0" fill="#000"/>
<ellipse cx="363.15" cy="302.40" rx="2.3" ry="2.0" fill="#000"/>
<ellipse cx="399.00" cy="349.60" rx="2.3" ry="2.0" fill="#000"/>
<ellipse cx="434.85" cy="352.60" rx="2.3" ry="2.0" fill="#000"/>
<ellipse cx="470.70" cy="352.00" rx="2.3" ry="2.0" fill="#000"/>
<ellipse cx="506.55" cy="353.00" rx="2.3" ry="2.0" fill="#000"/>
<text transform="translate(60.90,574.40) rotate(-90)" font-size="10.6" font-weight="bold" text-anchor="start" textLength="126.30" lengthAdjust="spacingAndGlyphs" stroke="#000" stroke-width="0.25">% of STAT5 phosphorylation</text>
<line x1="82.60" y1="453.20" x2="82.60" y2="567.50" stroke="#000" stroke-width="2.8" stroke-linecap="butt"/>
<line x1="77.60" y1="566.10" x2="273.50" y2="566.10" stroke="#000" stroke-width="2.8" stroke-linecap="butt"/>
<text transform="translate(77.00,569.60) scale(1.05,1)" font-size="8.2" font-weight="bold" text-anchor="end" stroke="#000" stroke-width="0.2">0</text>
<line x1="77.60" y1="543.64" x2="82.60" y2="543.64" stroke="#000" stroke-width="2.1" stroke-linecap="butt"/>
<text transform="translate(77.00,547.14) scale(1.05,1)" font-size="8.2" font-weight="bold" text-anchor="end" stroke="#000" stroke-width="0.2">15</text>
<line x1="77.60" y1="521.18" x2="82.60" y2="521.18" stroke="#000" stroke-width="2.1" stroke-linecap="butt"/>
<text transform="translate(77.00,524.68) scale(1.05,1)" font-size="8.2" font-weight="bold" text-anchor="end" stroke="#000" stroke-width="0.2">30</text>
<line x1="77.60" y1="498.72" x2="82.60" y2="498.72" stroke="#000" stroke-width="2.1" stroke-linecap="butt"/>
<text transform="translate(77.00,502.22) scale(1.05,1)" font-size="8.2" font-weight="bold" text-anchor="end" stroke="#000" stroke-width="0.2">45</text>
<line x1="77.60" y1="476.26" x2="82.60" y2="476.26" stroke="#000" stroke-width="2.1" stroke-linecap="butt"/>
<text transform="translate(77.00,479.76) scale(1.05,1)" font-size="8.2" font-weight="bold" text-anchor="end" stroke="#000" stroke-width="0.2">60</text>
<line x1="77.60" y1="453.80" x2="82.60" y2="453.80" stroke="#000" stroke-width="2.1" stroke-linecap="butt"/>
<text transform="translate(77.00,457.30) scale(1.05,1)" font-size="8.2" font-weight="bold" text-anchor="end" stroke="#000" stroke-width="0.2">75</text>
<rect x="84.60" y="567.30" width="2.40" height="3.20" fill="#000"/>
<text transform="translate(85.80,578.90) scale(1.05,1)" font-size="8.2" font-weight="bold" text-anchor="middle" stroke="#000" stroke-width="0.2">100</text>
<rect x="120.35" y="567.30" width="2.40" height="3.20" fill="#000"/>
<text transform="translate(121.55,578.90) scale(1.05,1)" font-size="8.2" font-weight="bold" text-anchor="middle" stroke="#000" stroke-width="0.2">10</text>
<rect x="156.10" y="567.30" width="2.40" height="3.20" fill="#000"/>
<text transform="translate(157.30,578.90) scale(1.05,1)" font-size="8.2" font-weight="bold" text-anchor="middle" stroke="#000" stroke-width="0.2">1</text>
<rect x="191.85" y="567.30" width="2.40" height="3.20" fill="#000"/>
<text transform="translate(193.05,578.90) scale(1.05,1)" font-size="8.2" font-weight="bold" text-anchor="middle" stroke="#000" stroke-width="0.2">0.1</text>
<rect x="227.60" y="567.30" width="2.40" height="3.20" fill="#000"/>
<text transform="translate(228.80,578.90) scale(1.05,1)" font-size="8.2" font-weight="bold" text-anchor="middle" stroke="#000" stroke-width="0.2">0.01</text>
<rect x="263.35" y="567.30" width="2.40" height="3.20" fill="#000"/>
<text transform="translate(264.55,578.90) scale(1.05,1)" font-size="8.2" font-weight="bold" text-anchor="middle" stroke="#000" stroke-width="0.2">0.001</text>
<text x="108.20" y="596.60" font-size="9.2" font-weight="bold" text-anchor="start" textLength="143.30" lengthAdjust="spacingAndGlyphs" stroke="#000" stroke-width="0.25">IL-15 activation dose (ng/mL)</text>
<text x="131.50" y="426.90" font-size="10.0" font-weight="bold" text-anchor="start" textLength="102.00" lengthAdjust="spacingAndGlyphs" stroke="#000" stroke-width="0.25">Total  CD8+ T cells</text>
<text x="110.80" y="439.30" font-size="10.0" font-weight="bold" text-anchor="start" textLength="136.60" lengthAdjust="spacingAndGlyphs" stroke="#000" stroke-width="0.25">(in purified CD8+ T cells)</text>
<line x1="91.10" y1="445.70" x2="264.30" y2="445.70" stroke="#000" stroke-width="1.5" stroke-linecap="butt"/>
<line x1="85.80" y1="464.90" x2="121.55" y2="473.90" stroke="#000" stroke-width="1.9" stroke-linecap="butt" stroke-dasharray="2.6 1.2"/>
<line x1="121.55" y1="473.90" x2="157.30" y2="498.20" stroke="#000" stroke-width="1.6" stroke-linecap="butt"/>
<line x1="157.30" y1="498.20" x2="193.05" y2="547.60" stroke="#000" stroke-width="1.6" stroke-linecap="butt"/>
<line x1="193.05" y1="547.60" x2="228.80" y2="557.50" stroke="#000" stroke-width="1.9" stroke-linecap="butt" stroke-dasharray="2.6 1.2"/>
<line x1="228.80" y1="557.50" x2="264.55" y2="565.00" stroke="#000" stroke-width="1.9" stroke-linecap="butt" stroke-dasharray="2.6 1.2"/>
<ellipse cx="85.80" cy="464.90" rx="2.6" ry="2.2" fill="#fff" stroke="#000" stroke-width="1.7"/>
<ellipse cx="121.55" cy="473.90" rx="2.6" ry="2.2" fill="#fff" stroke="#000" stroke-width="1.7"/>
<ellipse cx="157.30" cy="498.20" rx="2.6" ry="2.2" fill="#fff" stroke="#000" stroke-width="1.7"/>
<ellipse cx="193.05" cy="547.60" rx="2.6" ry="2.2" fill="#fff" stroke="#000" stroke-width="1.7"/>
<ellipse cx="228.80" cy="557.50" rx="2.6" ry="2.2" fill="#fff" stroke="#000" stroke-width="1.7"/>
<ellipse cx="264.55" cy="565.00" rx="2.6" ry="2.2" fill="#fff" stroke="#000" stroke-width="1.7"/>
<line x1="85.80" y1="512.40" x2="121.55" y2="518.10" stroke="#000" stroke-width="2.0" stroke-linecap="butt"/>
<line x1="121.55" y1="518.10" x2="157.30" y2="562.50" stroke="#000" stroke-width="2.0" stroke-linecap="butt"/>
<line x1="157.30" y1="562.50" x2="193.05" y2="565.50" stroke="#000" stroke-width="2.0" stroke-linecap="butt"/>
<line x1="193.05" y1="565.50" x2="228.80" y2="565.80" stroke="#000" stroke-width="2.0" stroke-linecap="butt"/>
<line x1="228.80" y1="565.80" x2="264.55" y2="565.80" stroke="#000" stroke-width="2.0" stroke-linecap="butt"/>
<ellipse cx="85.80" cy="512.40" rx="2.3" ry="2.0" fill="#000"/>
<ellipse cx="121.55" cy="518.10" rx="2.3" ry="2.0" fill="#000"/>
<ellipse cx="157.30" cy="562.50" rx="2.3" ry="2.0" fill="#000"/>
<ellipse cx="193.05" cy="565.50" rx="2.3" ry="2.0" fill="#000"/>
<ellipse cx="228.80" cy="565.80" rx="2.3" ry="2.0" fill="#000"/>
<ellipse cx="264.55" cy="565.80" rx="2.3" ry="2.0" fill="#000"/>
<text transform="translate(302.90,574.40) rotate(-90)" font-size="10.6" font-weight="bold" text-anchor="start" textLength="126.30" lengthAdjust="spacingAndGlyphs" stroke="#000" stroke-width="0.25">% of STAT5 phosphorylation</text>
<line x1="324.50" y1="453.20" x2="324.50" y2="567.50" stroke="#000" stroke-width="2.8" stroke-linecap="butt"/>
<line x1="319.50" y1="566.10" x2="516.00" y2="566.10" stroke="#000" stroke-width="2.8" stroke-linecap="butt"/>
<text transform="translate(318.90,569.60) scale(1.05,1)" font-size="8.2" font-weight="bold" text-anchor="end" stroke="#000" stroke-width="0.2">0</text>
<line x1="319.50" y1="543.64" x2="324.50" y2="543.64" stroke="#000" stroke-width="2.1" stroke-linecap="butt"/>
<text transform="translate(318.90,547.14) scale(1.05,1)" font-size="8.2" font-weight="bold" text-anchor="end" stroke="#000" stroke-width="0.2">15</text>
<line x1="319.50" y1="521.18" x2="324.50" y2="521.18" stroke="#000" stroke-width="2.1" stroke-linecap="butt"/>
<text transform="translate(318.90,524.68) scale(1.05,1)" font-size="8.2" font-weight="bold" text-anchor="end" stroke="#000" stroke-width="0.2">30</text>
<line x1="319.50" y1="498.72" x2="324.50" y2="498.72" stroke="#000" stroke-width="2.1" stroke-linecap="butt"/>
<text transform="translate(318.90,502.22) scale(1.05,1)" font-size="8.2" font-weight="bold" text-anchor="end" stroke="#000" stroke-width="0.2">45</text>
<line x1="319.50" y1="476.26" x2="324.50" y2="476.26" stroke="#000" stroke-width="2.1" stroke-linecap="butt"/>
<text transform="translate(318.90,479.76) scale(1.05,1)" font-size="8.2" font-weight="bold" text-anchor="end" stroke="#000" stroke-width="0.2">60</text>
<line x1="319.50" y1="453.80" x2="324.50" y2="453.80" stroke="#000" stroke-width="2.1" stroke-linecap="butt"/>
<text transform="translate(318.90,457.30) scale(1.05,1)" font-size="8.2" font-weight="bold" text-anchor="end" stroke="#000" stroke-width="0.2">75</text>
<rect x="326.10" y="567.30" width="2.40" height="3.20" fill="#000"/>
<text transform="translate(327.30,578.90) scale(1.05,1)" font-size="8.2" font-weight="bold" text-anchor="middle" stroke="#000" stroke-width="0.2">100</text>
<rect x="361.95" y="567.30" width="2.40" height="3.20" fill="#000"/>
<text transform="translate(363.15,578.90) scale(1.05,1)" font-size="8.2" font-weight="bold" text-anchor="middle" stroke="#000" stroke-width="0.2">10</text>
<rect x="397.80" y="567.30" width="2.40" height="3.20" fill="#000"/>
<text transform="translate(399.00,578.90) scale(1.05,1)" font-size="8.2" font-weight="bold" text-anchor="middle" stroke="#000" stroke-width="0.2">1</text>
<rect x="433.65" y="567.30" width="2.40" height="3.20" fill="#000"/>
<text transform="translate(434.85,578.90) scale(1.05,1)" font-size="8.2" font-weight="bold" text-anchor="middle" stroke="#000" stroke-width="0.2">0.1</text>
<rect x="469.50" y="567.30" width="2.40" height="3.20" fill="#000"/>
<text transform="translate(470.70,578.90) scale(1.05,1)" font-size="8.2" font-weight="bold" text-anchor="middle" stroke="#000" stroke-width="0.2">0.01</text>
<rect x="505.35" y="567.30" width="2.40" height="3.20" fill="#000"/>
<text transform="translate(506.55,578.90) scale(1.05,1)" font-size="8.2" font-weight="bold" text-anchor="middle" stroke="#000" stroke-width="0.2">0.001</text>
<text x="350.20" y="596.60" font-size="9.2" font-weight="bold" text-anchor="start" textLength="143.30" lengthAdjust="spacingAndGlyphs" stroke="#000" stroke-width="0.25">IL-15 activation dose (ng/mL)</text>
<text x="367.10" y="427.30" font-size="10.0" font-weight="bold" text-anchor="start" textLength="102.90" lengthAdjust="spacingAndGlyphs" stroke="#000" stroke-width="0.25">Total  CD8+ T cells</text>
<text x="349.80" y="439.80" font-size="10.0" font-weight="bold" text-anchor="start" textLength="140.40" lengthAdjust="spacingAndGlyphs" stroke="#000" stroke-width="0.25">(in CD14-depleted PBMC)</text>
<line x1="334.40" y1="445.60" x2="507.50" y2="445.60" stroke="#000" stroke-width="1.5" stroke-linecap="butt"/>
<line x1="327.30" y1="466.90" x2="363.15" y2="469.30" stroke="#000" stroke-width="1.9" stroke-linecap="butt" stroke-dasharray="2.6 1.2"/>
<line x1="363.15" y1="469.30" x2="399.00" y2="491.40" stroke="#000" stroke-width="1.6" stroke-linecap="butt"/>
<line x1="399.00" y1="491.40" x2="434.85" y2="526.90" stroke="#000" stroke-width="1.6" stroke-linecap="butt"/>
<line x1="434.85" y1="526.90" x2="470.70" y2="550.10" stroke="#000" stroke-width="1.6" stroke-linecap="butt"/>
<line x1="470.70" y1="550.10" x2="506.55" y2="562.00" stroke="#000" stroke-width="1.9" stroke-linecap="butt" stroke-dasharray="2.6 1.2"/>
<ellipse cx="327.30" cy="466.90" rx="2.6" ry="2.2" fill="#fff" stroke="#000" stroke-width="1.7"/>
<ellipse cx="363.15" cy="469.30" rx="2.6" ry="2.2" fill="#fff" stroke="#000" stroke-width="1.7"/>
<ellipse cx="399.00" cy="491.40" rx="2.6" ry="2.2" fill="#fff" stroke="#000" stroke-width="1.7"/>
<ellipse cx="434.85" cy="526.90" rx="2.6" ry="2.2" fill="#fff" stroke="#000" stroke-width="1.7"/>
<ellipse cx="470.70" cy="550.10" rx="2.6" ry="2.2" fill="#fff" stroke="#000" stroke-width="1.7"/>
<ellipse cx="506.55" cy="562.00" rx="2.6" ry="2.2" fill="#fff" stroke="#000" stroke-width="1.7"/>
<line x1="327.30" y1="507.80" x2="363.15" y2="520.30" stroke="#000" stroke-width="2.0" stroke-linecap="butt"/>
<line x1="363.15" y1="520.30" x2="399.00" y2="549.60" stroke="#000" stroke-width="2.0" stroke-linecap="butt"/>
<line x1="399.00" y1="549.60" x2="434.85" y2="556.70" stroke="#000" stroke-width="2.0" stroke-linecap="butt"/>
<line x1="434.85" y1="556.70" x2="470.70" y2="565.00" stroke="#000" stroke-width="2.0" stroke-linecap="butt"/>
<line x1="470.70" y1="565.00" x2="506.55" y2="562.00" stroke="#000" stroke-width="2.0" stroke-linecap="butt"/>
<ellipse cx="327.30" cy="507.80" rx="2.3" ry="2.0" fill="#000"/>
<ellipse cx="363.15" cy="520.30" rx="2.3" ry="2.0" fill="#000"/>
<ellipse cx="399.00" cy="549.60" rx="2.3" ry="2.0" fill="#000"/>
<ellipse cx="434.85" cy="556.70" rx="2.3" ry="2.0" fill="#000"/>
<ellipse cx="470.70" cy="565.00" rx="2.3" ry="2.0" fill="#000"/>
<ellipse cx="506.55" cy="562.00" rx="2.3" ry="2.0" fill="#000"/>
<text x="-0.60" y="19.60" font-size="23.8" font-weight="bold" text-anchor="start" textLength="18.60" lengthAdjust="spacingAndGlyphs" stroke="#000" stroke-width="0.6">A</text>
<text x="28.60" y="19.00" font-size="13.0" font-weight="bold" text-anchor="start" textLength="25.30" lengthAdjust="spacingAndGlyphs" stroke="#000" stroke-width="0.35">IL-7</text>
<text x="0.80" y="222.30" font-size="23.6" font-weight="bold" text-anchor="start" textLength="16.20" lengthAdjust="spacingAndGlyphs" stroke="#000" stroke-width="0.6">B</text>
<text x="28.60" y="220.50" font-size="12.5" font-weight="bold" text-anchor="start" textLength="33.80" lengthAdjust="spacingAndGlyphs" stroke="#000" stroke-width="0.35">IL-15</text>
<text x="0.10" y="420.20" font-size="23.6" font-weight="bold" text-anchor="start" textLength="16.80" lengthAdjust="spacingAndGlyphs" stroke="#000" stroke-width="0.6">C</text>
<text x="28.60" y="419.60" font-size="12.5" font-weight="bold" text-anchor="start" textLength="33.80" lengthAdjust="spacingAndGlyphs" stroke="#000" stroke-width="0.35">IL-15</text>
<rect x="424.4" y="50.3" width="4.0" height="4.6" fill="#fff" stroke="#000" stroke-width="1.4"/>
<rect x="423.70" y="65.00" width="5.70" height="6.70" fill="#000"/>
<text x="437.10" y="55.40" font-size="9.4" font-weight="normal" text-anchor="start" textLength="66.70" lengthAdjust="spacingAndGlyphs" stroke="#000" stroke-width="0.15">healthy carriers</text>
<text x="437.10" y="71.30" font-size="9.4" font-weight="normal" text-anchor="start" textLength="47.50" lengthAdjust="spacingAndGlyphs" stroke="#000" stroke-width="0.15">IM patients</text>
</svg>
</body></html>
